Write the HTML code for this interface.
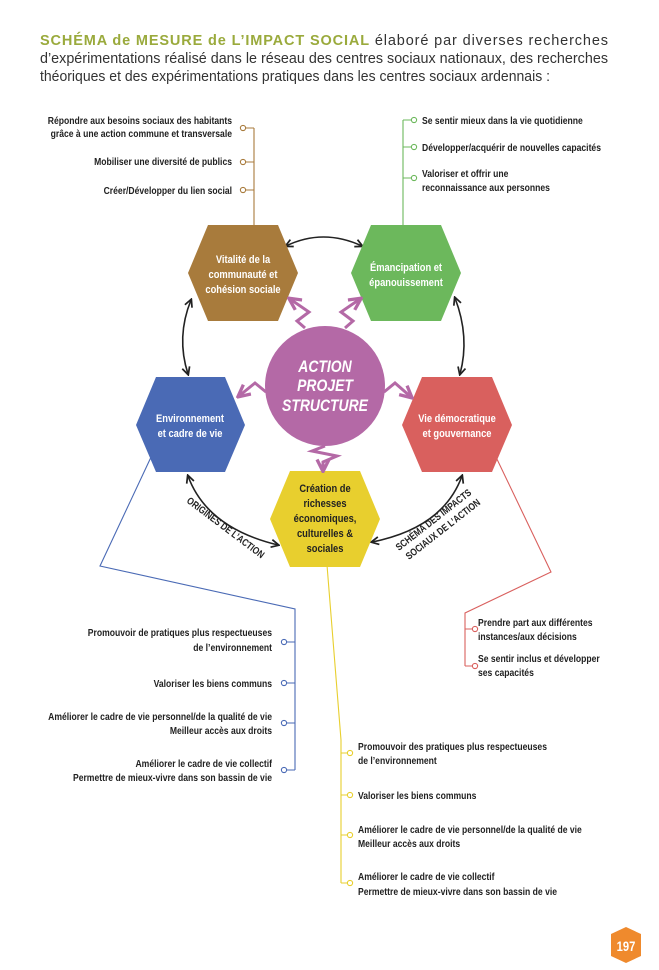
<!DOCTYPE html>
<html><head><meta charset="utf-8"><style>
html,body{margin:0;padding:0;background:#fff;width:659px;height:970px;overflow:hidden}
svg{display:block}
.t{font-family:"Liberation Sans",sans-serif;font-weight:bold;font-size:10px;fill:#222}
.h{font-family:"Liberation Sans",sans-serif;font-weight:bold;font-size:11px;fill:#fff;text-anchor:middle}
.hd{font-family:"Liberation Sans",sans-serif;font-size:14.5px;fill:#333}
</style></head><body>
<svg width="659" height="970" viewBox="0 0 659 970" xmlns="http://www.w3.org/2000/svg">
<defs>
<marker id="ab" viewBox="0 0 10 10" refX="8" refY="5" markerWidth="6" markerHeight="6" orient="auto-start-reverse"><path d="M1,1 L9,5 L1,9" fill="none" stroke="#222" stroke-width="1.8"/></marker>
<marker id="ap" viewBox="0 0 10 10" refX="8" refY="5" markerWidth="5" markerHeight="5" orient="auto"><path d="M1,1 L9,5 L1,9" fill="none" stroke="#b469a6" stroke-width="2.2"/></marker>
</defs>
<!-- header -->
<text class="hd" x="40" y="45" textLength="568" lengthAdjust="spacing"><tspan fill="#9aaa3c" font-weight="bold">SCHÉMA de MESURE de L’IMPACT SOCIAL</tspan> élaboré par diverses recherches</text>
<text class="hd" x="40" y="63" textLength="568" lengthAdjust="spacingAndGlyphs">d’expérimentations réalisé dans le réseau des centres sociaux nationaux, des recherches</text>
<text class="hd" x="40" y="81" textLength="510" lengthAdjust="spacingAndGlyphs">théoriques et des expérimentations pratiques dans les centres sociaux ardennais :</text>

<!-- connector lines -->
<g fill="#fff" stroke-width="1.1">
<g stroke="#a87b3c"><path d="M254,225 V128 M243,128 H254 M243,162 H254 M243,190 H254" fill="none"/>
<circle cx="243" cy="128" r="2.6"/><circle cx="243" cy="162" r="2.6"/><circle cx="243" cy="190" r="2.6"/></g>
<g stroke="#6cb85c"><path d="M403,225 V120 M403,120 H414 M403,147 H414 M403,178 H414" fill="none"/>
<circle cx="414" cy="120" r="2.6"/><circle cx="414" cy="147" r="2.6"/><circle cx="414" cy="178" r="2.6"/></g>
<g stroke="#4a6ab5"><path d="M152,455 L100,566 L295,609 V770 M284,642 H295 M284,683 H295 M284,723 H295 M284,770 H295" fill="none"/>
<circle cx="284" cy="642" r="2.6"/><circle cx="284" cy="683" r="2.6"/><circle cx="284" cy="723" r="2.6"/><circle cx="284" cy="770" r="2.6"/></g>
<g stroke="#e8cf2e"><path d="M327,565 L341,740 V883 M341,753 H350 M341,795 H350 M341,835 H350 M341,883 H350" fill="none"/>
<circle cx="350" cy="753" r="2.6"/><circle cx="350" cy="795" r="2.6"/><circle cx="350" cy="835" r="2.6"/><circle cx="350" cy="883" r="2.6"/></g>
<g stroke="#d9605e"><path d="M495,455 L551,572 L465,613 V666 M465,629 H475 M465,666 H475" fill="none"/>
<circle cx="475" cy="629" r="2.6"/><circle cx="475" cy="666" r="2.6"/></g>
</g>

<!-- black arrows -->
<g fill="none" stroke="#222" stroke-width="1.6" marker-start="url(#ab)" marker-end="url(#ab)">
<path d="M286,246 Q323,228 362,246"/>
<path d="M191,300 Q176,337 188,374"/>
<path d="M455,298 Q470,337 460,374"/>
<path d="M188,476 Q207,528 278,545"/>
<path d="M462,476 Q443,528 372,542"/>
</g>
<g transform="translate(186,502) rotate(37) scale(0.82,1)"><text class="t" font-size="8.5" x="0" y="0">ORIGINES DE L’ACTION</text></g>
<g transform="translate(399,551) rotate(-38) scale(0.82,1)"><text class="t" font-size="8.5" x="0" y="0">SCHÉMA DES IMPACTS</text></g>
<g transform="translate(409,560) rotate(-38) scale(0.82,1)"><text class="t" font-size="8.5" x="0" y="0">SOCIAUX DE L’ACTION</text></g>

<!-- hexagons -->
<polygon points="188,273 208,225 278,225 298,273 278,321 208,321" fill="#a87b3c"/>
<polygon points="351,273 371,225 441,225 461,273 441,321 371,321" fill="#6cb85c"/>
<polygon points="136,425 156,377 225,377 245,425 225,472 156,472" fill="#4a6ab5"/>
<polygon points="402,425 422,377 492,377 512,425 492,472 422,472" fill="#d9605e"/>
<polygon points="270,519 290,471 360,471 380,519 360,567 290,567" fill="#e8cf2e"/>
<circle cx="325" cy="386" r="60" fill="#b469a6"/>

<!-- purple zigzags -->
<g fill="none" stroke="#b469a6" stroke-width="3" marker-end="url(#ap)">
<polyline points="305,328 297,321 309,312 290,299"/>
<polyline points="345,328 353,321 341,312 360,299"/>
<polyline points="325,446 312,451 337,456 323,462 323,470"/>
<polyline points="266,392 255,383 239,396"/>
<polyline points="384,392 395,383 411,397"/>
</g>

<!-- hex labels -->
<g transform="translate(243,0) scale(0.85,1)">
<text class="h" x="0" y="263">Vitalité de la</text>
<text class="h" x="0" y="278">communauté et</text>
<text class="h" x="0" y="293">cohésion sociale</text></g>
<g transform="translate(406,0) scale(0.85,1)">
<text class="h" x="0" y="271">Émancipation et</text>
<text class="h" x="0" y="286">épanouissement</text></g>
<g transform="translate(190,0) scale(0.85,1)">
<text class="h" x="0" y="422">Environnement</text>
<text class="h" x="0" y="437">et cadre de vie</text></g>
<g transform="translate(457,0) scale(0.85,1)">
<text class="h" x="0" y="422">Vie démocratique</text>
<text class="h" x="0" y="437">et gouvernance</text></g>
<g transform="translate(325,0) scale(0.85,1)">
<text class="h" style="fill:#222" x="0" y="492">Création de</text>
<text class="h" style="fill:#222" x="0" y="507">richesses</text>
<text class="h" style="fill:#222" x="0" y="522">économiques,</text>
<text class="h" style="fill:#222" x="0" y="537">culturelles &amp;</text>
<text class="h" style="fill:#222" x="0" y="552">sociales</text></g>
<g transform="translate(325,0) scale(0.82,1)" font-family="'Liberation Sans',sans-serif" font-style="italic" font-weight="bold" font-size="17" fill="#fff" text-anchor="middle">
<text x="0" y="372">ACTION</text><text x="0" y="391">PROJET</text><text x="0" y="411">STRUCTURE</text>
</g>

<!-- item texts -->
<g transform="translate(232,0) scale(0.86,1)"><g class="t" text-anchor="end">
<text x="0" y="124">Répondre aux besoins sociaux des habitants</text>
<text x="0" y="137">grâce à une action commune et transversale</text>
<text x="0" y="165">Mobiliser une diversité de publics</text>
<text x="0" y="194">Créer/Développer du lien social</text></g></g>
<g transform="translate(272,0) scale(0.86,1)"><g class="t" text-anchor="end">
<text x="0" y="636">Promouvoir de pratiques plus respectueuses</text>
<text x="0" y="651">de l’environnement</text>
<text x="0" y="687">Valoriser les biens communs</text>
<text x="0" y="720">Améliorer le cadre de vie personnel/de la qualité de vie</text>
<text x="0" y="734">Meilleur accès aux droits</text>
<text x="0" y="767">Améliorer le cadre de vie collectif</text>
<text x="0" y="781">Permettre de mieux-vivre dans son bassin de vie</text></g></g>
<g transform="translate(422,0) scale(0.86,1)"><g class="t">
<text x="0" y="124">Se sentir mieux dans la vie quotidienne</text>
<text x="0" y="151">Développer/acquérir de nouvelles capacités</text>
<text x="0" y="177">Valoriser et offrir une</text>
<text x="0" y="191">reconnaissance aux personnes</text></g></g>
<g transform="translate(478,0) scale(0.86,1)"><g class="t">
<text x="0" y="626">Prendre part aux différentes</text>
<text x="0" y="640">instances/aux décisions</text>
<text x="0" y="662">Se sentir inclus et développer</text>
<text x="0" y="676">ses capacités</text></g></g>
<g transform="translate(358,0) scale(0.86,1)"><g class="t">
<text x="0" y="750">Promouvoir des pratiques plus respectueuses</text>
<text x="0" y="764">de l’environnement</text>
<text x="0" y="799">Valoriser les biens communs</text>
<text x="0" y="833">Améliorer le cadre de vie personnel/de la qualité de vie</text>
<text x="0" y="847">Meilleur accès aux droits</text>
<text x="0" y="880">Améliorer le cadre de vie collectif</text>
<text x="0" y="895">Permettre de mieux-vivre dans son bassin de vie</text></g></g>

<!-- page badge -->
<polygon points="626,927 641,934 641,956 626,963 611,956 611,934" fill="#ef8a2d"/>
<g transform="translate(626,0) scale(0.8,1)"><text x="0" y="951" text-anchor="middle" font-family="'Liberation Sans',sans-serif" font-weight="bold" font-size="14" fill="#fff">197</text></g>
</svg>
</body></html>
